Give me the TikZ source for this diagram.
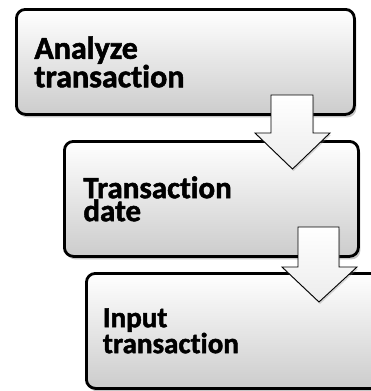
\documentclass[tikz,border=0pt]{standalone}
\usepackage{fontspec}
\setmainfont{Carlito}[Ligatures=NoCommon, BoldFeatures={FakeBold=1.6}]
\usetikzlibrary{shadows}
\usetikzlibrary{positioning}
\tikzset{
  stage/.style={rectangle, draw=black, line width=2.8pt, rounded corners=9pt,
    top color=white, bottom color=gray!40, anchor=north west,
    align=left, inner xsep=18pt, font=\bfseries,
    drop shadow={opacity=0.45, shadow xshift=2pt, shadow yshift=-3pt}},
  flow/.style={draw=black, line width=0.9pt, line join=miter,
    top color=white, bottom color=gray!15,
    drop shadow={opacity=0.3, shadow xshift=1pt, shadow yshift=-2pt}}
  }

\begin{document}
\begin{tikzpicture}[x=1pt, y=-1pt]
	% Frame
	\useasboundingbox (0,0) rectangle (370,391);

	% Nodes
	\node[stage, minimum width=338pt, minimum height=105pt, text width=302pt] (analyze) at (15,8)
	  {\fontsize{32}{31}\selectfont Analyze\\transaction};
	\node[stage, minimum width=294pt, minimum height=115pt, text width=256pt] (date) at (63,140)
	  {\fontsize{31}{29}\selectfont Transaction\\date};
	\node[stage, minimum width=295pt, minimum height=115pt, text width=262pt, inner xsep=15pt] (input) at (85,272)
	  {\fontsize{29}{35}\selectfont Input\\transaction};

	% Arrows
	\draw[flow] (271,95) -- (313,95) -- (313,133) -- (330,133) -- (292.5,169)
	  -- (255,133) -- (271,133) -- cycle;
	\draw[flow] (298,227) -- (339,227) -- (339,267) -- (357,267) -- (319,302)
	  -- (282,267) -- (298,267) -- cycle;
\end{tikzpicture}
\end{document}
